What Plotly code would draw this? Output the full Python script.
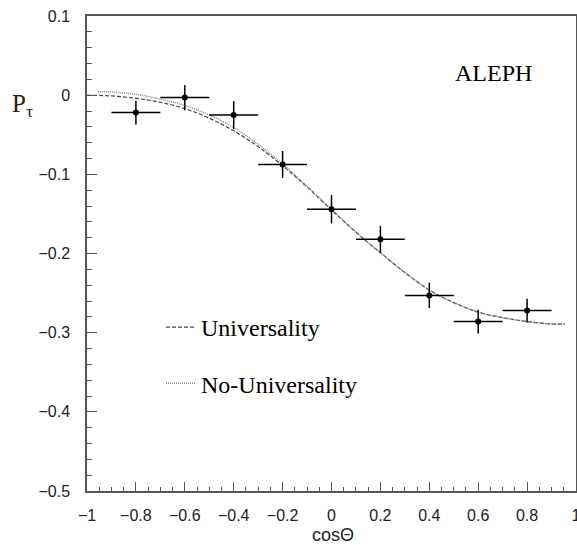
import plotly.graph_objects as go

# Data points (ALEPH)
cos_pts = [-0.8, -0.6, -0.4, -0.2, 0.0, 0.2, 0.4, 0.6, 0.8]
ptau_pts = [-0.022, -0.003, -0.025, -0.0875, -0.144, -0.182, -0.253, -0.286, -0.272]
ptau_err = [0.015, 0.016, 0.0175, 0.017, 0.018, 0.017, 0.016, 0.015, 0.015]
cos_err = [0.1] * 9

# Curves
curve_x_u = [-1.0, -0.9, -0.8, -0.7, -0.6, -0.5, -0.4, -0.3, -0.2, -0.1, 0.0,
             0.1, 0.2, 0.3, 0.4, 0.5, 0.6, 0.7, 0.8, 0.9, 0.955]
univ = [0.0, -0.001, -0.004, -0.009, -0.017, -0.029, -0.045, -0.065, -0.089, -0.116, -0.145,
        -0.173, -0.199, -0.224, -0.246, -0.262, -0.274, -0.281, -0.286, -0.289, -0.289]
curve_x_n = [-0.955, -0.9, -0.8, -0.7, -0.6, -0.5, -0.4, -0.3, -0.2, -0.1, 0.0,
             0.1, 0.2, 0.3, 0.4, 0.5, 0.6, 0.7, 0.8, 0.9, 0.955]
nouniv = [0.0045, 0.004, 0.001, -0.005, -0.013, -0.025, -0.041, -0.062, -0.087, -0.115, -0.144,
          -0.173, -0.199, -0.224, -0.246, -0.262, -0.274, -0.281, -0.286, -0.289, -0.289]

x_ticks = [-1, -0.8, -0.6, -0.4, -0.2, 0, 0.2, 0.4, 0.6, 0.8, 1]
y_ticks = [0.1, 0, -0.1, -0.2, -0.3, -0.4, -0.5]


def fmt(v):
    return "−" + str(abs(v)) if v < 0 else str(v)


fig = go.Figure()
fig.add_trace(go.Scatter(
    x=curve_x_u, y=univ, mode="lines", name="Universality",
    legendgroup="u", line=dict(color="#444444", width=1.2, dash="4px,2px", shape="spline")))
fig.add_trace(go.Scatter(
    x=curve_x_n, y=nouniv, mode="lines", name="No-Universality",
    legendgroup="n", line=dict(color="#888888", width=1.5, dash="1px,1px", shape="spline")))
fig.add_trace(go.Scatter(
    x=cos_pts, y=ptau_pts, mode="markers", showlegend=False,
    marker=dict(color="black", size=6),
    error_y=dict(type="data", array=ptau_err, color="black", thickness=1.5, width=0),
    error_x=dict(type="data", array=cos_err, color="black", thickness=1.5, width=0)))

axis_common = dict(
    showgrid=False, zeroline=False, showline=True, linecolor="#555555", linewidth=1.5,
    mirror=True, ticks="inside", tickcolor="#555555", tickwidth=1.2,
    tickfont=dict(family="Liberation Sans", size=16, color="#222222"),
    ticklabeloverflow="allow", automargin=False,
)
fig.update_xaxes(range=[-1, 1], tickvals=x_ticks, ticktext=[fmt(v) for v in x_ticks],
                 ticklen=9, minor=dict(dtick=0.05, ticklen=4, ticks="inside", tickcolor="#555555"),
                 ticklabelstandoff=9, **axis_common)
fig.update_yaxes(range=[-0.5, 0.1], tickvals=y_ticks, ticktext=[fmt(v) for v in y_ticks],
                 ticklen=10, minor=dict(dtick=0.02, ticklen=5, ticks="inside", tickcolor="#555555"),
                 ticklabelstandoff=12, **axis_common)

fig.add_annotation(text="ALEPH", xref="paper", yref="paper", x=0.831, y=0.88,
                   xanchor="center", yanchor="middle",
                   showarrow=False, font=dict(family="Liberation Serif", size=24, color="black"))
fig.add_annotation(text="P<sub>τ</sub>", xref="paper", yref="paper", x=-0.132, y=0.812,
                   xanchor="center", yanchor="middle",
                   showarrow=False, font=dict(family="Liberation Serif", size=25, color="#2a2010"))
fig.add_annotation(text="cosΘ", xref="paper", yref="paper", x=0.503, y=-0.092,
                   xanchor="center", yanchor="middle",
                   showarrow=False, font=dict(family="Liberation Sans", size=18, color="#222222"))

fig.update_layout(
    width=577, height=545,
    margin=dict(l=87, r=1, t=16, b=54, autoexpand=False),
    plot_bgcolor="white", paper_bgcolor="white",
    showlegend=True,
    legend=dict(x=(161 - 87) / 489, y=(491 - 305) / 475, xanchor="left", yanchor="top",
                bgcolor="rgba(0,0,0,0)", font=dict(family="Liberation Serif", size=24, color="black"),
                traceorder="grouped", tracegroupgap=22),
)

fig.write_html("out.html")
